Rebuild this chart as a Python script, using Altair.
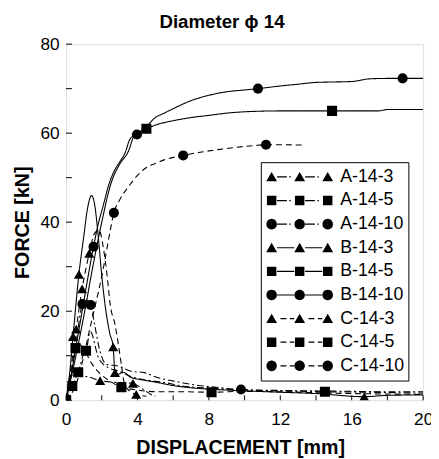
import altair as alt
import pandas as pd

FONT = "Liberation Sans"

TITLE = "Diameter ϕ 14"
SERIES = ["A-14-3", "A-14-5", "A-14-10", "B-14-3", "B-14-5", "B-14-10",
          "C-14-3", "C-14-5", "C-14-10"]

A14_3_x = [0, 0.15, 0.3, 0.6, 1.2, 1.91, 2.8, 3.75, 4.3, 4.8, 5.0]
A14_3_y = [0, 4, 5.5, 5.6, 5.3, 4.4, 4.0, 3.8, 2.5, 1.2, 0.9]
A14_3_m = [5, 7]

A14_5_x = [0, 0.35, 0.68, 1.0, 1.12, 1.36, 1.82, 2.37, 3.0, 3.6, 4.7, 5.5, 6.5, 8.0, 10.0, 12.0, 14.5, 17.0, 20.0]
A14_5_y = [0, 3.2, 6.3, 10.5, 11.1, 15.4, 9.5, 7.3, 6.5, 5.4, 4.4, 4.0, 3.2, 2.7, 2.3, 2.1, 1.9, 1.8, 1.6]
A14_5_m = [0, 1, 2, 4, 16]

A14_10_x = [0, 0.3, 0.6, 0.92, 1.15, 1.38, 1.6, 1.9, 2.3, 2.9, 3.65, 4.39, 5.12, 6.04, 7.14, 8.4, 9.8, 12, 14, 16, 18, 20]
A14_10_y = [0, 6, 14, 21.6, 22.5, 21.4, 17, 11, 8, 7.7, 6.5, 6.2, 5.1, 4.3, 3.5, 2.9, 2.4, 2.2, 2.1, 2.0, 1.9, 1.9]
A14_10_m = [3, 5, 16]

B14_3_x = [0, 0.2, 0.39, 0.72, 1.0, 1.2, 1.43, 1.6, 1.8, 2.0, 2.2, 2.45, 2.64, 2.74, 2.9, 3.2, 3.6, 4.4, 5.1, 6.0, 7.0, 8.5, 10.0, 12.0, 14.0, 16.7, 18.0, 20.0]
B14_3_y = [0, 6, 14.3, 28.3, 37, 43, 46, 44, 37, 28, 21, 15, 12, 6.2, 5.8, 6.3, 5.2, 4.5, 4.0, 3.3, 2.8, 2.4, 2.1, 1.8, 1.5, 0.8, 1.1, 1.2]
B14_3_m = [2, 3, 12, 13, 25]

B14_5_x = [0, 0.5, 1.0, 1.5, 2.0, 2.5, 3.0, 3.5, 3.8, 4.2, 4.5, 5.0, 6.0, 7.0, 8.0, 9.0, 10.0, 12.0, 14.9, 17.5, 18.0, 20.0]
B14_5_y = [0, 9, 19, 30, 40, 48.5, 53, 56, 59.3, 60.5, 61, 61.8, 62.8, 63.5, 64, 64.5, 64.8, 65, 65, 65, 65.3, 65.3]
B14_5_m = [0, 10, 18]

B14_10_x = [0, 0.3, 0.6, 0.9, 1.2, 1.54, 1.8, 2.1, 2.4, 2.7, 3.0, 3.3, 3.6, 3.97, 4.5, 5.0, 5.5, 6.0, 7.0, 8.0, 9.0, 10.0, 10.75, 12.0, 13.0, 14.0, 15.0, 16.0, 17.0, 18.0, 18.85, 20.0]
B14_10_y = [0, 6, 13, 20, 27, 34.5, 39.5, 44, 48.5, 51.5, 53.5, 55.5, 58.8, 59.7, 61.5, 63.5, 64.5, 65.5, 67.3, 68.5, 69.3, 69.7, 70.0, 70.6, 71.0, 71.4, 71.5, 71.6, 72.2, 72.3, 72.3, 72.3]
B14_10_m = [5, 13, 22, 30]

C14_3_x = [0, 0.3, 0.57, 0.9, 1.3, 1.6, 1.85, 2.1, 2.3, 2.48, 2.75, 2.95, 3.1, 3.25, 3.45, 3.93, 4.5]
C14_3_y = [0, 8, 16, 25, 33, 37.5, 38.2, 34, 28, 21.3, 16.9, 12, 8, 4, 2.5, 1.3, 0.9]
C14_3_m = [2, 3, 4, 15]

C14_5_x = [0, 0.2, 0.53, 0.75, 1.0, 1.4, 1.9, 2.5, 3.1, 3.8, 4.6, 5.5, 6.5, 8.15, 10.0, 12.0, 14.0, 16.0, 18.0, 20.0]
C14_5_y = [0, 4, 11.7, 12.5, 11.5, 8.5, 6.0, 4.2, 2.9, 2.4, 2.0, 1.9, 1.9, 1.8, 2.0, 1.9, 1.7, 1.5, 1.4, 1.3]
C14_5_m = [2, 8, 13]

C14_10_x = [0, 0.6, 1.0, 1.3, 1.56, 1.85, 2.11, 2.4, 2.68, 3.0, 3.5, 4.0, 4.5, 5.0, 5.5, 6.56, 7.5, 8.5, 9.5, 10.5, 11.2, 12.0, 13.4]
C14_10_y = [0, 4, 10, 15.5, 20, 25, 30.1, 36.5, 42.1, 45, 48, 50.5, 52.3, 53.2, 54, 55, 55.7, 56.3, 56.8, 57.2, 57.4, 57.4, 57.3]
C14_10_m = [8, 15, 20]

X_TICKS = [0, 2, 4, 6, 8, 10, 12, 14, 16, 18, 20]
X_LABELS = [0, 4, 8, 12, 16, 20]
Y_TICKS = [0, 10, 20, 30, 40, 50, 60, 70, 80]
Y_LABELS = [0, 20, 40, 60, 80]

ALL = [
    (A14_3_x, A14_3_y, A14_3_m), (A14_5_x, A14_5_y, A14_5_m), (A14_10_x, A14_10_y, A14_10_m),
    (B14_3_x, B14_3_y, B14_3_m), (B14_5_x, B14_5_y, B14_5_m), (B14_10_x, B14_10_y, B14_10_m),
    (C14_3_x, C14_3_y, C14_3_m), (C14_5_x, C14_5_y, C14_5_m), (C14_10_x, C14_10_y, C14_10_m),
]
SHAPE_OF = {"3": "triangle-up", "5": "square", "10": "circle"}

rows = []
for name, (xs, ys, mk) in zip(SERIES, ALL):
    for i, (x, y) in enumerate(zip(xs, ys)):
        rows.append(dict(series=name, style=name[0], shape=SHAPE_OF[name.split("-")[2]],
                         x=x, y=y, order=i, marker=(i in mk)))
df = pd.DataFrame(rows)

# ---- legend symbol paths (marker-line-marker-line-marker) ----
U = 34.0


def f(v):
    return f"{v / U:.4f}"


def tri(cx):
    return f"M{f(cx-5.5)},{f(4.5)}L{f(cx+5.5)},{f(4.5)}L{f(cx)},{f(-5)}Z"


def sq(cx):
    h = 4.8
    return f"M{f(cx-h)},{f(-h)}L{f(cx+h)},{f(-h)}L{f(cx+h)},{f(h)}L{f(cx-h)},{f(h)}Z"


def circ(cx):
    r = 5.3
    return (f"M{f(cx-r)},0A{f(r)},{f(r)} 0 1,0 {f(cx+r)},0"
            f"A{f(r)},{f(r)} 0 1,0 {f(cx-r)},0Z")


def seg(a, b):
    h = 0.6
    return f"M{f(a)},{f(-h)}L{f(b)},{f(-h)}L{f(b)},{f(h)}L{f(a)},{f(h)}Z"


def legend_path(name):
    style = name[0]
    kind = name.split("-")[2]
    mfun = {"3": tri, "5": sq, "10": circ}[kind]
    p = "".join(mfun(c) for c in (-28.5, 0, 28.5))
    for s, e in ((-23.0, -5.5), (5.5, 23.0)):
        if style == "B":
            p += seg(s, e)
        elif style == "C":
            p += seg(s + 3.5, s + 9.5) + seg(s + 13, e)
        else:
            p += seg(s, s + 10) + seg(s + 12.5, s + 14)
    return p


LEGEND_PATHS = [legend_path(n) for n in SERIES]
legend_df = pd.DataFrame({"series": SERIES, "x": [0] * 9, "y": [0] * 9})

xscale = alt.Scale(domain=[0, 20], nice=False, zero=False)
yscale = alt.Scale(domain=[0, 80], nice=False)

x_axis = alt.Axis(values=X_LABELS, ticks=False, tickSize=0, grid=False, domain=False,
                  labelFont=FONT, labelFontSize=17.5, labelColor="black", labelPadding=11,
                  labelFlush=False, title="DISPLACEMENT [mm]", titleFont=FONT,
                  titleFontSize=20, titleFontWeight="bold", titleColor="black",
                  titlePadding=10, titleX=177)
y_axis = alt.Axis(values=Y_LABELS, ticks=False, tickSize=0, grid=False, domain=False,
                  labelFont=FONT, labelFontSize=17.5, labelColor="black", labelPadding=7,
                  labelFlush=False, title="FORCE [kN]", titleFont=FONT,
                  titleFontSize=20, titleFontWeight="bold", titleColor="black",
                  titlePadding=8)

X = alt.X("x:Q", scale=xscale, axis=x_axis)
Y = alt.Y("y:Q", scale=yscale, axis=y_axis)

lines = alt.Chart(df).mark_line(color="black", strokeWidth=1.1, clip=True,
                                interpolate="monotone").encode(
    x=X, y=Y, detail="series:N", order="order:Q",
    strokeDash=alt.StrokeDash("style:N", scale=alt.Scale(
        domain=["A", "B", "C"], range=[[7, 3, 2, 3], [1, 0], [6, 4]]), legend=None),
)

marker_layers = []
for shp in ["triangle-up", "square", "circle"]:
    marker_layers.append(
        alt.Chart(df).transform_filter(alt.datum.marker == True)
        .transform_filter(alt.datum.shape == shp)
        .mark_point(shape=shp, filled=True, color="black", opacity=1, size=105, clip=True)
        .encode(x=X, y=Y)
    )

legend_layer = alt.Chart(legend_df).mark_point(
    filled=True, color="black", opacity=0, strokeWidth=0.5).encode(
    x=X, y=Y,
    shape=alt.Shape("series:N", scale=alt.Scale(domain=SERIES, range=LEGEND_PATHS),
                    legend=alt.Legend(
                        title=None, orient="none", legendX=198, legendY=120,
                        symbolSize=68 * 68, clipHeight=23.6, rowPadding=0, padding=3.2,
                        strokeColor="black", fillColor="white", cornerRadius=0,
                        labelFont=FONT, labelFontSize=18, labelColor="black",
                        labelOffset=6.8, symbolOffset=1.8, labelLimit=300,
                        symbolFillColor="black", symbolStrokeColor="black",
                        symbolStrokeWidth=0.5, symbolOpacity=1)),
)

title_df = pd.DataFrame({"t": [TITLE]})
title_layer = alt.Chart(title_df).mark_text(
    font=FONT, fontSize=19, fontWeight="bold", color="black", align="center",
    baseline="alphabetic", clip=False).encode(
    text="t:N", x=alt.value(158.5), y=alt.value(-16))

xt_df = pd.DataFrame({"v": X_TICKS})
yt_df = pd.DataFrame({"v": Y_TICKS})
xticks = alt.Chart(xt_df).mark_rule(color="black", strokeWidth=1).encode(
    x=alt.X("v:Q", scale=xscale, axis=x_axis), y=alt.value(362), y2=alt.value(357))
yticks = alt.Chart(yt_df).mark_rule(color="black", strokeWidth=1).encode(
    y=alt.Y("v:Q", scale=yscale, axis=y_axis), x=alt.value(0), x2=alt.value(6))

chart = alt.layer(lines, *marker_layers, legend_layer, xticks, yticks, title_layer).properties(
    width=363, height=362,
    autosize=alt.AutoSizeParams(type="none"),
    padding={"left": 59, "top": 33, "right": 8, "bottom": 56},
).configure_view(stroke="black", strokeWidth=1).configure(background="white")

chart.save("out.html", embed_options={"renderer": "svg", "actions": False})
